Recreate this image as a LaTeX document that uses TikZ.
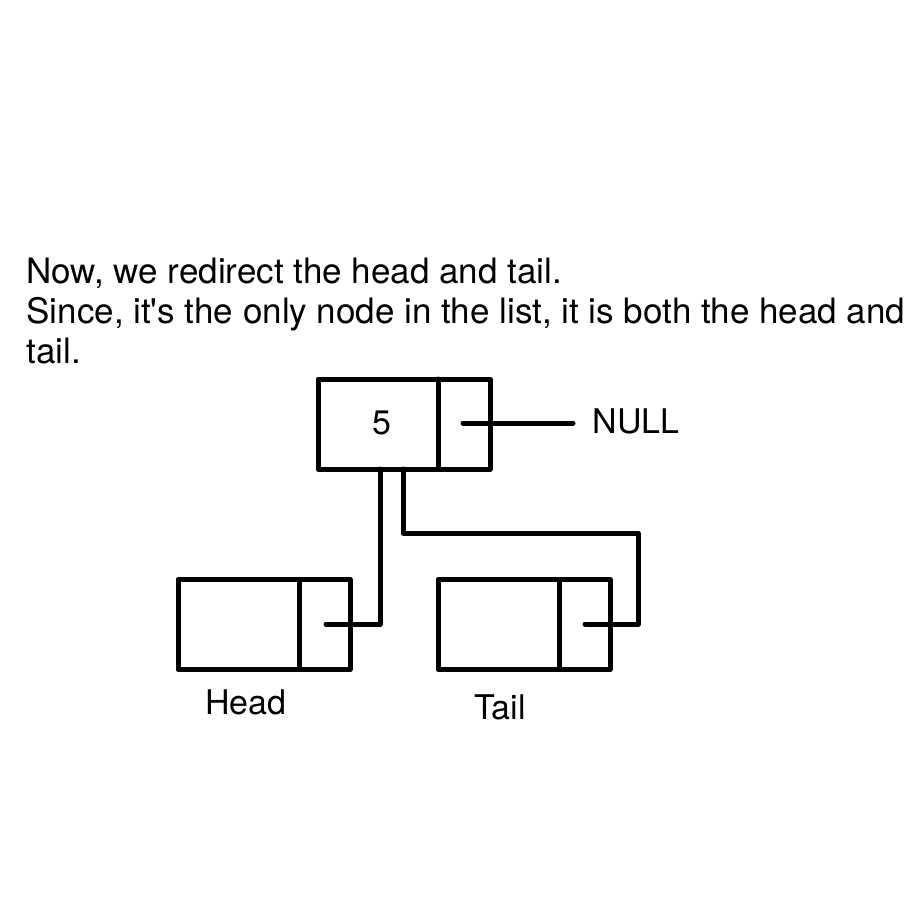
\documentclass[tikz,border=0pt]{standalone}
\usepackage{fontspec}
\setmainfont{TeX Gyre Heros}[Ligatures=TeXOff]
\begin{document}
\begin{tikzpicture}[x=1pt,y=-1pt,line width=5pt,line join=round,line cap=round]
\useasboundingbox (0,0) rectangle (922,900);
\tikzset{
  cell/.style={draw,minimum width=172pt,minimum height=90pt,inner sep=0pt,outer sep=0pt},
  txt/.style={anchor=base west,inner sep=0pt,font=\fontsize{35}{40}\selectfont},
  lbl/.style={inner sep=0pt,font=\fontsize{34}{40}\selectfont}
}
% explanatory text
\node[txt] (t1) at (24,283) {Now, we redirect the head and tail.};
\node[txt] (t2) at (24,323) {Since, it's the only node in the list, it is both the head and};
\node[txt] (t3) at (24,363) {tail.};
% nodes
\node[cell] (top) at (404,424) {};
\draw (438,379) -- (438,469);
\node[lbl] (five) at (382,423) {5};
\node[cell] (head) at (264,624.5) {};
\draw (299,580) -- (299,669);
\node[cell] (tail) at (524,624.5) {};
\draw (559,580) -- (559,669);
\node[lbl,anchor=west] (null) at (590,421) {NULL};
\node[lbl] (headlbl) at (246,702) {Head};
\node[lbl] (taillbl) at (500,707) {Tail};
% pointers
\coordinate (tp) at (463,423);
\coordinate (nullend) at (573,423);
\draw (tp) -- (nullend);
\coordinate (hp) at (326,624);
\coordinate (hs) at (380,469);
\draw (hp) -- (hs |- hp) -- (hs);
\coordinate (tlp) at (585,624);
\coordinate (ts) at (403,469);
\draw (tlp) -- (638,624) -- (638,533) -- (403,533) -- (ts);
\end{tikzpicture}
\end{document}
